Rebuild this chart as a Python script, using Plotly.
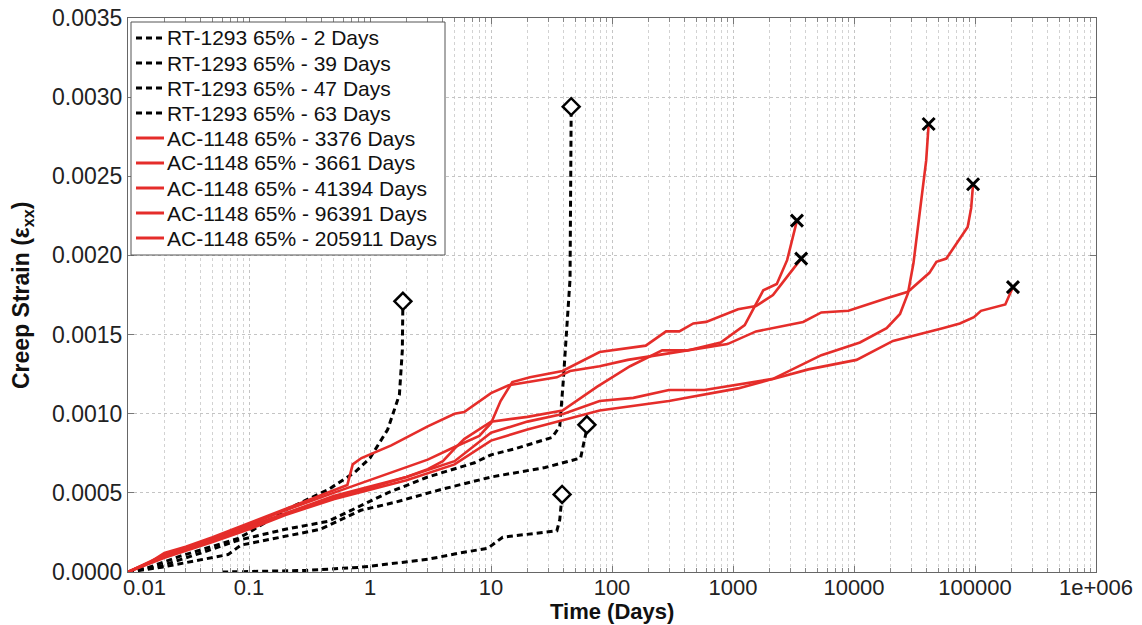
import plotly.graph_objects as go

# ---------------- data ----------------
rt_names = ["RT-1293 65% - 2 Days", "RT-1293 65% - 39 Days",
            "RT-1293 65% - 47 Days", "RT-1293 65% - 63 Days"]
ac_names = ["AC-1148 65% - 3376 Days", "AC-1148 65% - 3661 Days",
            "AC-1148 65% - 41394 Days", "AC-1148 65% - 96391 Days",
            "AC-1148 65% - 205911 Days"]

rt2_t = [0.01, 0.015, 0.027, 0.048, 0.08, 0.1, 0.21, 0.45, 0.75, 1.0, 1.4, 1.75, 1.85, 1.87]
rt2_e = [0, 0.00003, 0.0001, 0.00016, 0.00021, 0.00025, 0.0004, 0.00052, 0.00063, 0.00072,
         0.0009, 0.00112, 0.0014, 0.00171]

rt39_t = [0.06, 0.3, 0.84, 3, 5.5, 9.4, 12.5, 20, 35, 37, 38.7]
rt39_e = [0, 0.00001, 0.00003, 0.00008, 0.00012, 0.00015, 0.00022, 0.00024, 0.00026, 0.00033, 0.00049]

rt47_t = [0.01, 0.019, 0.04, 0.081, 0.2, 0.45, 1.4, 3, 7.3, 10, 16, 32, 37, 39.5, 45, 46]
rt47_e = [0, 0.00004, 0.00012, 0.0002, 0.00027, 0.00032, 0.0005, 0.0006, 0.00069, 0.00074,
          0.00078, 0.00085, 0.00092, 0.0012, 0.00185, 0.00294]

rt63_t = [0.01, 0.019, 0.067, 0.086, 0.39, 0.84, 1.6, 3.8, 10, 28, 55, 61, 62]
rt63_e = [0, 0.00003, 0.00011, 0.00017, 0.00027, 0.00039, 0.00044, 0.00052, 0.0006, 0.00066,
          0.00072, 0.00088, 0.00093]

ac3376_t = [0.01, 0.02, 0.05, 0.1, 0.2, 0.5, 1, 2, 3, 4, 5, 6, 10, 20, 39, 75, 141, 260, 420,
            790, 1250, 1550, 1780, 2300, 2800, 3376]
ac3376_e = [0, 0.0001, 0.0002, 0.00029, 0.00037, 0.00048, 0.00054, 0.0006, 0.00065, 0.0007,
            0.00078, 0.00084, 0.00095, 0.00098, 0.00102, 0.00117, 0.0013, 0.0014, 0.0014,
            0.00145, 0.00156, 0.00169, 0.00178, 0.00182, 0.00197, 0.00222]

ac3661_t = [0.01, 0.02, 0.05, 0.1, 0.2, 0.5, 1, 2, 3, 5, 8, 10, 12, 15, 21, 39, 58, 79, 190,
            280, 360, 470, 600, 1100, 1550, 2140, 2900, 3661]
ac3661_e = [0, 0.00011, 0.00021, 0.0003, 0.00039, 0.0005, 0.00058, 0.00066, 0.00071, 0.00079,
            0.00086, 0.00094, 0.00108, 0.0012, 0.00123, 0.00127, 0.00134, 0.00139, 0.00143,
            0.00152, 0.00152, 0.00157, 0.00158, 0.00166, 0.00168, 0.00175, 0.00188, 0.00198]

ac41394_t = [0.01, 0.02, 0.05, 0.1, 0.2, 0.5, 1, 2, 5, 10, 20, 40, 79, 295, 1100, 2140, 5370,
             11200, 18600, 24000, 27900, 31000, 34000, 37000, 39500, 41394]
ac41394_e = [0, 0.00009, 0.00019, 0.00027, 0.00036, 0.00046, 0.00052, 0.00058, 0.00068,
             0.00083, 0.0009, 0.00096, 0.00102, 0.00108, 0.00116, 0.00122, 0.00137, 0.00145,
             0.00154, 0.00163, 0.00176, 0.00195, 0.0022, 0.0024, 0.0026, 0.00283]

ac96391_t = [0.01, 0.015, 0.02, 0.03, 0.05, 0.1, 0.2, 0.4, 0.65, 0.72, 0.85, 1.5, 3, 5, 6, 10,
             14, 35, 45, 79, 135, 420, 900, 1550, 3800, 5370, 9000, 18600, 27900, 42000,
             48000, 58000, 75000, 87000, 93000, 96391]
ac96391_e = [0, 0.00006, 0.00012, 0.00016, 0.00022, 0.00031, 0.0004, 0.00049, 0.00055,
             0.00068, 0.00072, 0.0008, 0.00092, 0.001, 0.00101, 0.00113, 0.00118, 0.00123,
             0.00127, 0.0013, 0.00134, 0.0014, 0.00144, 0.00152, 0.00158, 0.00164, 0.00165,
             0.00173, 0.00177, 0.00189, 0.00196, 0.00198, 0.00211, 0.00218, 0.0023, 0.00245]

ac205911_t = [0.01, 0.02, 0.05, 0.1, 0.2, 0.5, 1, 2, 5, 10, 20, 40, 79, 150, 295, 580, 2140,
              4200, 10500, 21000, 54000, 75000, 98000, 112000, 178000, 205911]
ac205911_e = [0, 0.0001, 0.0002, 0.00028, 0.00037, 0.00047, 0.00053, 0.0006, 0.0007, 0.00088,
              0.00095, 0.001, 0.00108, 0.0011, 0.00115, 0.00115, 0.00122, 0.00128, 0.00134,
              0.00146, 0.00154, 0.00157, 0.00161, 0.00165, 0.00169, 0.0018]

rt_series = [(rt2_t, rt2_e), (rt39_t, rt39_e), (rt47_t, rt47_e), (rt63_t, rt63_e)]
ac_series = [(ac3376_t, ac3376_e), (ac3661_t, ac3661_e), (ac41394_t, ac41394_e),
             (ac96391_t, ac96391_e), (ac205911_t, ac205911_e)]

x_tickvals = [0.01, 0.1, 1, 10, 100, 1000, 10000, 100000, 1000000]
x_ticktext = ["\u2003\u20020.01", "0.1", "1", "10", "100", "1000", "10000", "100000", "1e+006"]

# ---------------- figure ----------------
FONT = "Arial, Liberation Sans, sans-serif"
RED = "#e52d2a"
DASH = "6px,4px"
W, H = 1142, 625
ML, MR, MT, MB = 128, 46, 18, 53
PW, PH = W - ML - MR, H - MT - MB


def px(x):  # pixel -> paper x
    return (x - ML) / PW


def py(y):  # pixel -> paper y
    return (H - MB - y) / PH


fig = go.Figure()
for name, (t, e) in zip(rt_names, rt_series):
    fig.add_trace(go.Scatter(x=t, y=e, mode="lines", name=name, showlegend=False,
                             line=dict(color="black", width=3, dash=DASH)))
for name, (t, e) in zip(ac_names, ac_series):
    fig.add_trace(go.Scatter(x=t, y=e, mode="lines", name=name, showlegend=False,
                             line=dict(color=RED, width=2.6)))

# end-of-test markers
fig.add_trace(go.Scatter(x=[s[0][-1] for s in rt_series], y=[s[1][-1] for s in rt_series],
                         mode="markers", showlegend=False, hoverinfo="skip",
                         marker=dict(symbol="diamond", size=13, color="white",
                                     line=dict(color="black", width=2.5))))
fig.add_trace(go.Scatter(x=[s[0][-1] for s in ac_series], y=[s[1][-1] for s in ac_series],
                         mode="markers", showlegend=False, hoverinfo="skip",
                         marker=dict(symbol="x-thin", size=12, color="black",
                                     line=dict(color="black", width=3))))

# legend box (drawn by hand to match the original's geometry)
shapes = [dict(type="rect", xref="paper", yref="paper", layer="above",
               x0=px(131), x1=px(445), y0=py(255), y1=py(22),
               fillcolor="white", line=dict(color="#555", width=1))]
annotations = []
entries = [(n, "black", DASH, 3) for n in rt_names] + [(n, RED, "solid", 3) for n in ac_names]
for i, (name, col, dash, lw) in enumerate(entries):
    yc = 38 + 25 * i
    shapes.append(dict(type="line", xref="paper", yref="paper", layer="above",
                       x0=px(136), x1=px(164), y0=py(yc), y1=py(yc),
                       line=dict(color=col, width=lw, dash=dash)))
    annotations.append(dict(text=name, xref="paper", yref="paper", x=px(165), y=py(yc),
                            xanchor="left", yanchor="middle", showarrow=False,
                            font=dict(family=FONT, size=21, color="#111")))

# axis titles
annotations.append(dict(text="<b>Time (Days)</b>", xref="paper", yref="paper",
                        x=0.5, y=py(611), xanchor="center", yanchor="middle",
                        showarrow=False, font=dict(family=FONT, size=22, color="#111")))
annotations.append(dict(text="<b>Creep Strain (ε<sub>xx</sub>)</b>", xref="paper", yref="paper",
                        x=px(22), y=py(296), xanchor="center", yanchor="middle",
                        textangle=-90, showarrow=False,
                        font=dict(family=FONT, size=23, color="#111")))

minor_vals = [k * 10.0 ** n for n in range(-2, 6) for k in range(2, 10)]

fig.update_layout(
    width=W, height=H,
    margin=dict(l=ML, r=MR, t=MT, b=MB, autoexpand=False),
    paper_bgcolor="white", plot_bgcolor="white",
    font=dict(family=FONT, size=23, color="#222"),
    showlegend=False,
    shapes=shapes, annotations=annotations,
    xaxis=dict(type="log", range=[-2, 6], automargin=False,
               tickmode="array", tickvals=x_tickvals, ticktext=x_ticktext,
               ticks="inside", ticklen=6, tickcolor="#777", ticklabelstandoff=-4,
               showline=True, linecolor="#666", linewidth=1, mirror="ticks",
               showgrid=True, gridcolor="#c4c4c4", griddash="dot", gridwidth=1,
               minor=dict(tickvals=minor_vals, ticks="inside", ticklen=4, tickcolor="#888",
                          showgrid=True, gridcolor="#d2d2d2", griddash="dot"),
               zeroline=False,
               tickfont=dict(size=22, color="#222")),
    yaxis=dict(range=[0, 0.0035], dtick=0.0005, tickformat=".4f", automargin=False,
               ticks="inside", ticklen=6, tickcolor="#777",
               showline=True, linecolor="#666", linewidth=1, mirror="ticks",
               showgrid=True, gridcolor="#c4c4c4", griddash="dot", gridwidth=1,
               zeroline=False,
               tickfont=dict(size=23, color="#222")),
)

fig.write_html("out.html", config={"displayModeBar": False},
               post_script="document.body.style.margin='0';document.body.style.overflow='hidden';")
